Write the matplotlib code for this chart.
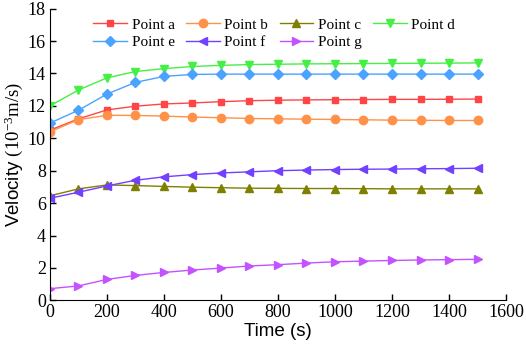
import numpy as np
import matplotlib.pyplot as plt

plt.rcParams['mathtext.fontset'] = 'custom'
plt.rcParams['mathtext.rm'] = 'Liberation Serif'
plt.rcParams['mathtext.it'] = 'Liberation Serif:italic'

# Data
time = [0, 100, 200, 300, 400, 500, 600, 700, 800, 900, 1000, 1100, 1200, 1300, 1400, 1500]
point_a = [10.5, 11.2, 11.75, 11.98, 12.12, 12.18, 12.26, 12.32, 12.35, 12.37, 12.38, 12.39, 12.4, 12.4, 12.41, 12.42]
point_b = [10.4, 11.15, 11.42, 11.41, 11.37, 11.31, 11.27, 11.22, 11.2, 11.18, 11.16, 11.14, 11.12, 11.11, 11.1, 11.1]
point_c = [6.45, 6.88, 7.12, 7.08, 7.03, 6.98, 6.95, 6.92, 6.91, 6.9, 6.9, 6.89, 6.88, 6.88, 6.88, 6.88]
point_d = [12.0, 12.98, 13.73, 14.12, 14.3, 14.43, 14.5, 14.55, 14.57, 14.59, 14.6, 14.61, 14.62, 14.63, 14.64, 14.65]
point_e = [10.94, 11.73, 12.73, 13.45, 13.82, 13.94, 13.96, 13.96, 13.96, 13.96, 13.96, 13.96, 13.96, 13.96, 13.96, 13.96]
point_f = [6.3, 6.67, 7.06, 7.41, 7.62, 7.76, 7.86, 7.93, 8.0, 8.04, 8.07, 8.09, 8.1, 8.12, 8.13, 8.15]
point_g = [0.72, 0.89, 1.29, 1.54, 1.72, 1.87, 1.99, 2.12, 2.2, 2.3, 2.38, 2.42, 2.46, 2.49, 2.51, 2.53]

series = [
    ('Point a', point_a, '#FF4545', 's'),
    ('Point b', point_b, '#FF9248', 'o'),
    ('Point c', point_c, '#808000', '^'),
    ('Point d', point_d, '#45F045', 'v'),
    ('Point e', point_e, '#4AA3FF', 'D'),
    ('Point f', point_f, '#7240FF', '<'),
    ('Point g', point_g, '#C452FF', '>'),
]

fig = plt.figure(figsize=(5.26, 3.46), dpi=100)
ax = fig.add_axes([0.095, 0.132, 0.867, 0.843])

lines = {}
for label, vals, color, marker in series:
    ms = 5 if marker in ('s', 'D') else 6
    lines[label], = ax.plot(time, vals, color=color, marker=marker, markersize=ms, lw=1.0, label=label)

ax.set_xlim(0, 1600)
ax.set_ylim(0, 18)
ax.set_xticks(np.arange(0, 1601, 200))
ax.set_yticks(np.arange(0, 19, 2))
ax.spines['top'].set_visible(False)
ax.spines['right'].set_visible(False)
ax.tick_params(direction='in', length=4, width=1, labelsize=13, pad=3)
for lbl in ax.get_xticklabels() + ax.get_yticklabels():
    lbl.set_fontfamily('Liberation Serif')

ax.set_xlabel('Time (s)', fontfamily='Liberation Sans', fontsize=13.5, labelpad=1)
ax.set_ylabel(r'Velocity $\mathrm{(10^{-3}m/s)}$', fontfamily='Liberation Sans', fontsize=13.5, labelpad=2)

# legend fills row by row in the reference
order = ['Point a', 'Point e', 'Point b', 'Point f', 'Point c', 'Point g', 'Point d']
leg = ax.legend([lines[k] for k in order], order, ncol=4, loc='upper left',
                bbox_to_anchor=(0.075, 1.0), frameon=False,
                prop={'family': 'Liberation Serif', 'size': 11},
                handlelength=2.2, handletextpad=0.3, columnspacing=0.75,
                labelspacing=0.25, borderaxespad=0.2)

fig.savefig('out.png', dpi=100)
